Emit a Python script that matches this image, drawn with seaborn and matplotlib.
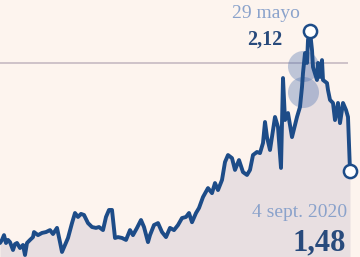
import matplotlib
matplotlib.use("Agg")
import matplotlib.pyplot as plt
import seaborn as sns
import pandas as pd

# sesiones (eje temporal, índice) y cotización
sesion = [0, 2, 4, 6, 8, 10, 13, 15, 17, 20, 23, 25, 27, 30, 33, 34, 38, 42, 46, 50,
          53, 57, 60, 62, 65, 68, 72, 75, 78, 81, 84, 88, 92, 96, 99, 103, 106, 109, 112, 115,
          118, 122, 126, 130, 133, 137, 141, 144, 148, 150, 154, 158, 162, 166, 170, 174, 178, 182, 186, 189,
          192, 196, 199, 203, 208, 212, 215, 218, 222, 225, 228, 232, 235, 239, 243, 247, 250, 253, 257, 260,
          263, 265, 267, 270, 275, 278, 281, 283, 285, 288, 292, 297, 300, 302, 303, 305, 307, 308, 310, 312,
          313, 317, 318, 320, 322, 323, 327, 328, 330, 333, 335, 338, 340, 343, 346, 348, 350]
valor = [1.151, 1.165, 1.187, 1.151, 1.165, 1.155, 1.119, 1.146, 1.151, 1.128, 1.142, 1.096, 1.151, 1.165, 1.178, 1.201, 1.187, 1.197, 1.201, 1.210,
         1.192, 1.220, 1.155, 1.110, 1.142, 1.174, 1.242, 1.288, 1.270, 1.284, 1.279, 1.242, 1.224, 1.220, 1.224, 1.210, 1.270, 1.302, 1.302, 1.174,
         1.178, 1.174, 1.165, 1.210, 1.187, 1.220, 1.256, 1.224, 1.155, 1.187, 1.233, 1.242, 1.201, 1.178, 1.220, 1.210, 1.233, 1.265, 1.270, 1.288,
         1.246, 1.288, 1.311, 1.361, 1.402, 1.379, 1.425, 1.393, 1.439, 1.521, 1.553, 1.539, 1.485, 1.530, 1.475, 1.462, 1.485, 1.553, 1.567, 1.562,
         1.608, 1.704, 1.635, 1.576, 1.727, 1.681, 1.494, 1.905, 1.713, 1.745, 1.635, 1.727, 1.773, 1.864, 1.928, 2.019, 1.974, 2.079, 2.120, 2.033,
         1.955, 1.896, 1.974, 1.910, 1.987, 1.896, 1.882, 1.850, 1.805, 1.791, 1.713, 1.791, 1.699, 1.791, 1.759, 1.727, 1.480]

referencia = 1.975
burbujas_x = [303, 303]
burbujas_y = [1.960, 1.841]

etiqueta_max_fecha = "29 mayo"
etiqueta_max_valor = "2,12"
etiqueta_fin_fecha = "4 sept. 2020"
etiqueta_fin_valor = "1,48"

BG = "#fdf4ee"
LINE = "#1d4c88"
FILL = "#e8dfe1"
LIGHT = "#8aa2cb"
DARK = "#284a7c"

sns.set_theme(style="white")
plt.rcParams["font.family"] = ["Liberation Serif", "DejaVu Serif"]

df = pd.DataFrame({"sesion": sesion, "valor": valor})

fig = plt.figure(figsize=(3.6, 2.57), dpi=100, facecolor=BG)
ax = fig.add_axes([0, 0, 1, 1])
ax.set_facecolor(BG)
ax.set_xlim(0, 360)
ax.set_ylim(1.087, 2.2617)
ax.axis("off")

ax.fill_between(df["sesion"], df["valor"], 1.0, color=FILL, lw=0, zorder=1)
ax.hlines(referencia, 0, 348, color="#c6bac2", lw=1.2, zorder=2)
ax.scatter(burbujas_x, burbujas_y, s=500, color="#4a6fae", alpha=0.35, lw=0, zorder=3)
sns.lineplot(data=df, x="sesion", y="valor", ax=ax, color=LINE, linewidth=2.8, zorder=4)

i_max = valor.index(max(valor))
ax.plot([sesion[i_max], sesion[-1]], [valor[i_max], valor[-1]], ls="none", marker="o",
        ms=9.5, mfc="white", mec=LINE, mew=1.8, zorder=5)

ax.text(300, 2.181, etiqueta_max_fecha, color=LIGHT, fontsize=14, ha="right", va="baseline")
ax.text(282, 2.058, etiqueta_max_valor, color=DARK, fontsize=14.5, fontweight="bold", ha="right", va="baseline")
ax.text(347, 1.270, etiqueta_fin_fecha, color=LIGHT, fontsize=14, ha="right", va="baseline")
ax.text(346, 1.119, etiqueta_fin_valor, color=DARK, fontsize=22, fontweight="bold", ha="right", va="baseline")

ax.set_xlabel("")
ax.set_ylabel("")
fig.savefig("out.png", dpi=100, facecolor=BG)
